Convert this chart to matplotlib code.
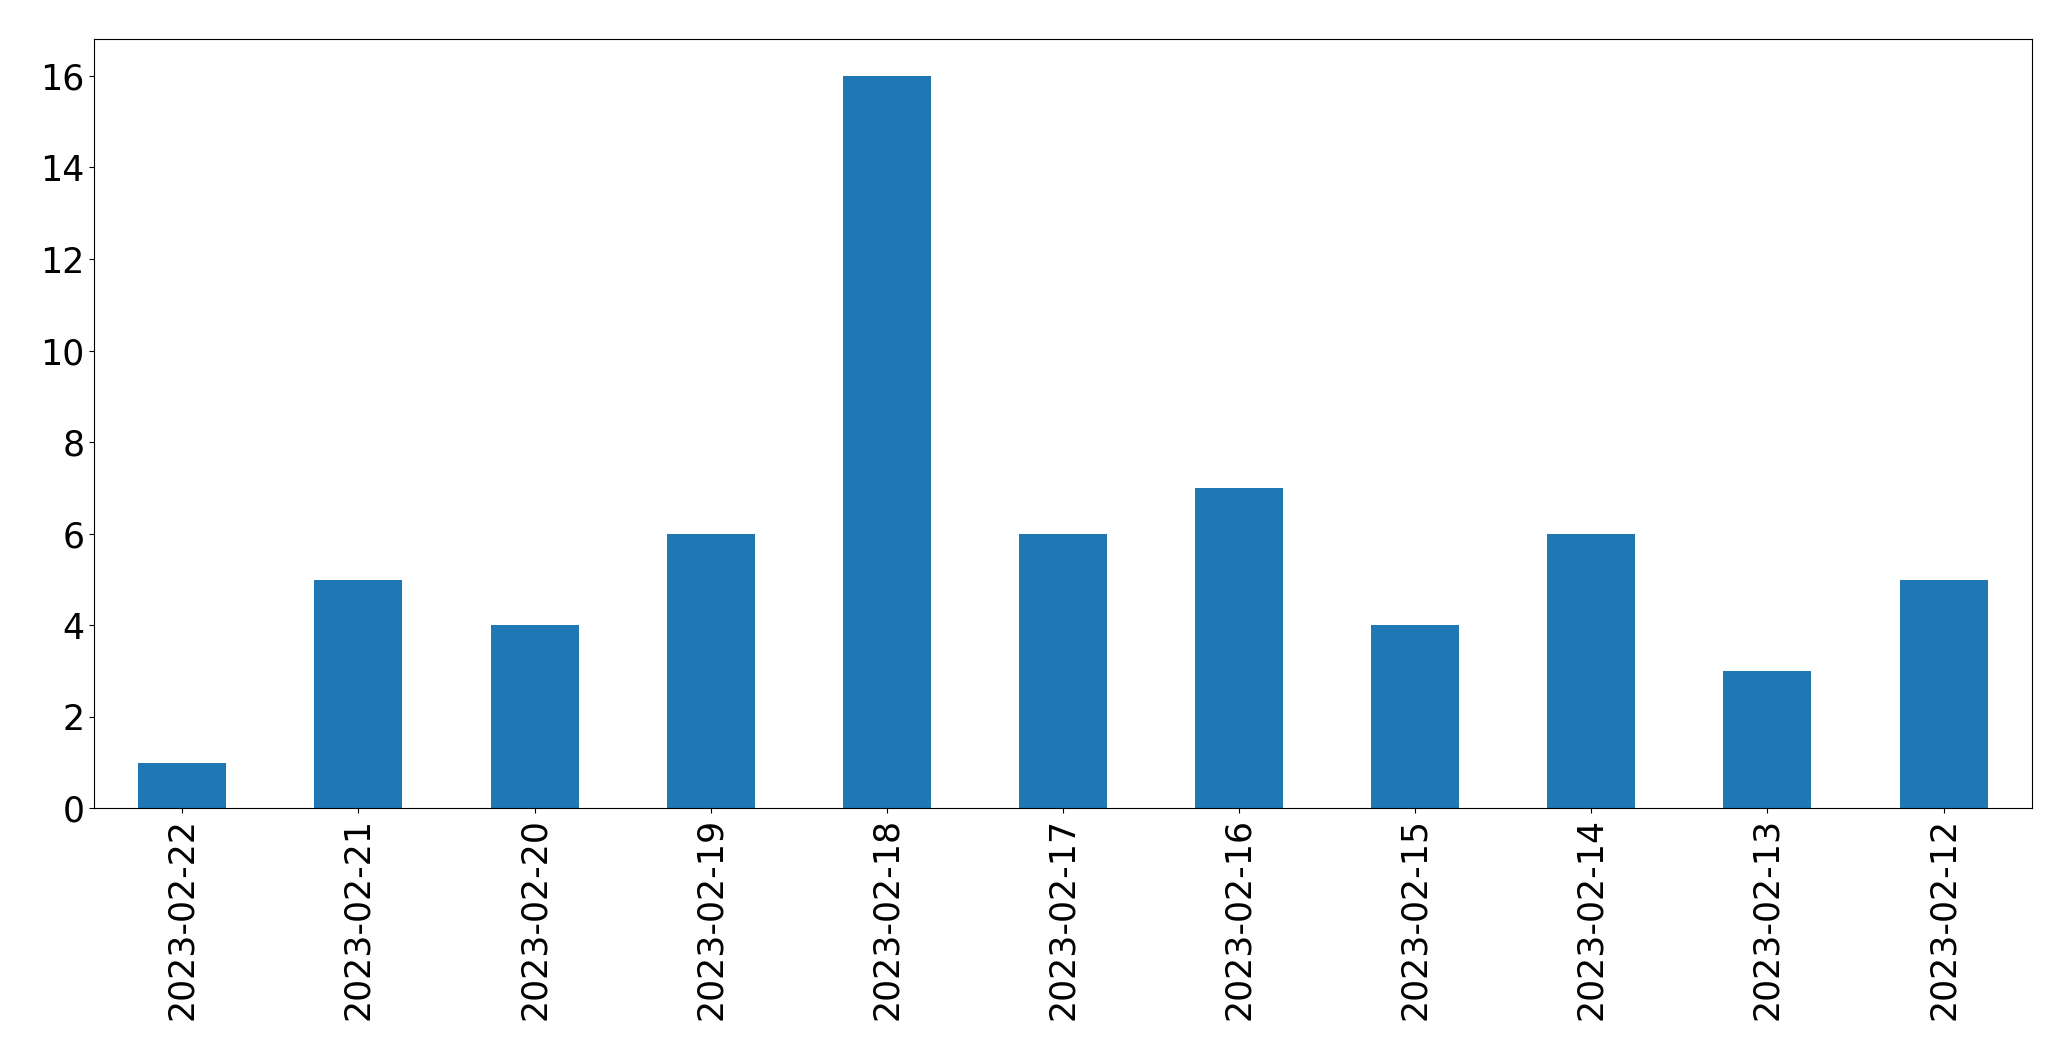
import matplotlib
matplotlib.use("Agg")
import matplotlib.pyplot as plt
import numpy as np

dates = ['2023-02-22', '2023-02-21', '2023-02-20', '2023-02-19', '2023-02-18', '2023-02-17',
         '2023-02-16', '2023-02-15', '2023-02-14', '2023-02-13', '2023-02-12']
counts = [1, 5, 4, 6, 16, 6, 7, 4, 6, 3, 5]

fig = plt.figure(figsize=(20.71, 10.61), dpi=100)
ax = fig.add_axes([0.0455, 0.238, 0.9355, 0.725])
x = np.arange(len(dates))
ax.bar(x, counts, width=0.5, color='#1f77b4')
ax.set_xlim(-0.5, len(dates) - 0.5)
ax.set_xticks(x)
ax.set_xticklabels(dates, rotation=90)
ax.tick_params(axis='both', labelsize=25)

fig.savefig('out.png', dpi=100)
